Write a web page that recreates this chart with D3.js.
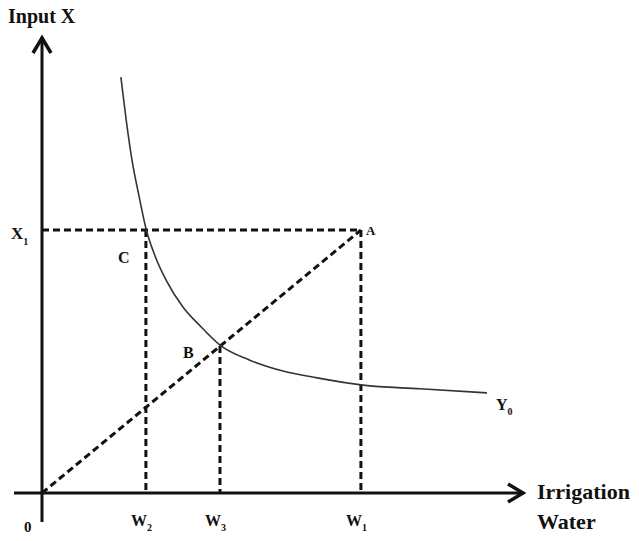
<!DOCTYPE html>
<html>
<head>
<meta charset="utf-8">
<script src="https://cdn.jsdelivr.net/npm/d3@7"></script>
<style>
  body { margin: 0; background: #fff; }
  text { font-family: "Liberation Serif", "DejaVu Serif", serif; font-weight: bold; fill: #111; }
</style>
</head>
<body>
<svg id="svg_canvas" width="639" height="541"></svg>
<script>
// isoquant Y0 (water, input)
var curveWater = [16.4, 17.5, 18.7, 20.2, 21.6, 23.5, 25.8, 29.3, 32.9, 37.0, 43.2, 50.1, 57.2, 66.7, 78.6, 92.5];
var curveInput = [91.4, 82.0, 73.2, 65.1, 58.2, 52.1, 46.8, 40.9, 36.7, 32.5, 29.2, 26.8, 25.3, 23.7, 22.9, 22.0];

// points on the diagram
var pointNames = ["A", "B", "C"];
var pointWater = [66.3, 37.0, 21.6];
var pointInput = [57.8, 32.3, 57.8];

var tickNames = ["W", "W", "W"];
var tickSubs = ["2", "3", "1"];
var tickWater = [21.6, 37.0, 66.3];

var svg = d3.select("#svg_canvas");
var x = d3.scaleLinear().domain([0, 100]).range([42, 523]);
var y = d3.scaleLinear().domain([0, 100]).range([493, 38]);

var dash = "7,4";

// dashed guides
var A = 0;
svg.append("line")
	.attr("x1", x(0)).attr("y1", y(pointInput[A]))
	.attr("x2", x(pointWater[A])).attr("y2", y(pointInput[A]))
	.attr("stroke", "#111").attr("stroke-width", 3).attr("stroke-dasharray", dash);
svg.append("line")
	.attr("x1", x(0)).attr("y1", y(0))
	.attr("x2", x(pointWater[A])).attr("y2", y(pointInput[A]))
	.attr("stroke", "#111").attr("stroke-width", 3).attr("stroke-dasharray", dash);
for (var i = 0; i < tickWater.length; i++) {
	var guideTop = i == 1 ? pointInput[1] : pointInput[A];
	svg.append("line")
		.attr("x1", x(tickWater[i])).attr("y1", y(guideTop))
		.attr("x2", x(tickWater[i])).attr("y2", y(0))
		.attr("stroke", "#111").attr("stroke-width", 3).attr("stroke-dasharray", dash);
}

// the curve
var line = d3.line()
	.x(function(d, i){ return x(curveWater[i]); })
	.y(function(d, i){ return y(curveInput[i]); })
	.curve(d3.curveMonotoneX);
svg.append("path")
	.attr("d", line(curveWater))
	.attr("fill", "none")
	.attr("stroke", "#333")
	.attr("stroke-width", 1.6);

// axes
svg.append("line")
	.attr("x1", 14).attr("y1", y(0)).attr("x2", x(100) + 1).attr("y2", y(0))
	.attr("stroke", "#111").attr("stroke-width", 3);
svg.append("line")
	.attr("x1", x(0)).attr("y1", 522).attr("x2", x(0)).attr("y2", y(100) - 1)
	.attr("stroke", "#111").attr("stroke-width", 3);
svg.append("path")
	.attr("d", "M" + (x(0) - 9) + "," + (y(100) + 15) + "L" + x(0) + "," + y(100) + "L" + (x(0) + 9) + "," + (y(100) + 15))
	.attr("fill", "none").attr("stroke", "#111").attr("stroke-width", 3.5);
svg.append("path")
	.attr("d", "M" + (x(100) - 15) + "," + (y(0) - 9) + "L" + x(100) + "," + y(0) + "L" + (x(100) - 15) + "," + (y(0) + 9))
	.attr("fill", "none").attr("stroke", "#111").attr("stroke-width", 3.5);

// labels
svg.append("text").attr("x", 8).attr("y", 23).attr("font-size", 20).text("Input X");
svg.append("text").attr("x", 537).attr("y", 499).attr("font-size", 22).text("Irrigation");
svg.append("text").attr("x", 537).attr("y", 529).attr("font-size", 22).text("Water");
svg.append("text").attr("x", 24).attr("y", 532).attr("font-size", 15).text("0");

var x1 = svg.append("text").attr("x", 11).attr("y", y(pointInput[A]) + 9).attr("font-size", 17);
x1.append("tspan").text("X");
x1.append("tspan").attr("dy", 6).attr("font-size", 10).text("1");

for (var i = 0; i < tickWater.length; i++) {
	var t = svg.append("text").attr("x", x(tickWater[i]) - 15).attr("y", 526).attr("font-size", 16);
	t.append("tspan").text(tickNames[i]);
	t.append("tspan").attr("dy", 5).attr("font-size", 10).text(tickSubs[i]);
}

var labelDx = [5, -37, -28];
var labelDy = [5, 12, 33];
for (var i = 0; i < pointNames.length; i++) {
	svg.append("text")
		.attr("x", x(pointWater[i]) + labelDx[i])
		.attr("y", y(pointInput[i]) + labelDy[i])
		.attr("font-size", i == 0 ? 13 : 16)
		.attr("font-weight", i == 0 ? "normal" : "bold")
		.text(pointNames[i]);
}

var y0 = svg.append("text").attr("x", 496).attr("y", 410).attr("font-size", 16);
y0.append("tspan").text("Y");
y0.append("tspan").attr("dy", 5).attr("font-size", 10).text("0");
</script>
</body>
</html>
